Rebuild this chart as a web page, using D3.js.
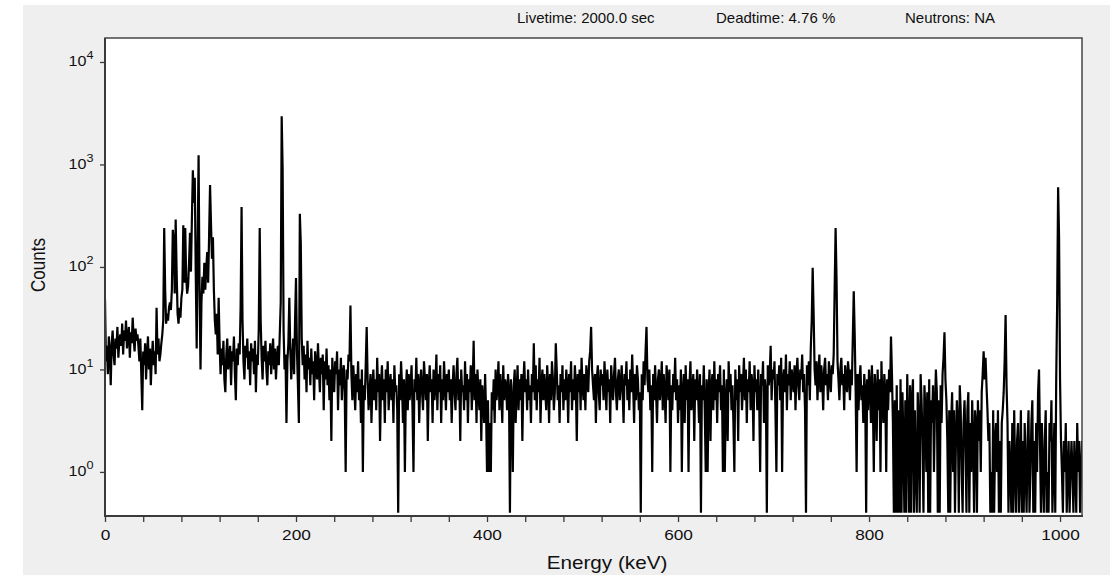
<!DOCTYPE html>
<html>
<head>
<meta charset="utf-8">
<script src="https://cdn.jsdelivr.net/npm/d3@7"></script>
<style>
  html, body { margin: 0; padding: 0; background: #fff; }
  svg { display: block; font-family: "Liberation Sans", Arial, sans-serif; }
</style>
</head>
<body>
<svg id="chart" width="1114" height="575"></svg>
<script>
// gamma spectrum, one value per 1 keV channel
// channels 0 - 260
var countsA = [
  48, 12, 17, 9, 21, 15, 7, 18, 24, 14, 11, 20, 16, 26, 13, 19,
  22, 17, 28, 14, 24, 19, 30, 16, 21, 26, 13, 23, 18, 32, 20, 15, 25, 19, 22,
  17, 12, 20, 9, 4, 15, 11, 18, 8, 14, 21, 10, 16, 7, 13, 19, 11, 15, 9, 40, 14, 20, 12,
  14, 18, 22, 30, 240, 60, 28, 35, 30, 40, 45, 38, 60, 230, 180, 55, 290, 90, 35, 28, 40, 32,
  50, 60, 255, 70, 240, 80, 55, 65, 110, 215, 90, 300, 880, 420, 740, 90, 16, 160, 1230, 60,
  10, 45, 80, 55, 110, 60, 95, 140, 70, 200, 630, 260, 120, 195, 60, 30, 22, 35, 14, 50, 18,
  9, 16, 11, 19, 8, 6, 14, 20, 10, 13, 17, 7, 15, 12, 21, 9, 5, 16, 11, 18,
  14, 40, 385, 30, 12, 8, 17, 13, 20, 10, 15, 7, 18, 12, 16, 9, 19, 6, 14, 11,
  25, 240, 30, 13, 8, 17, 12, 19, 10, 7, 15, 11, 18, 9, 14, 20, 10, 16, 8, 13, 17, 11, 22,
  45, 2950, 900, 24, 10, 14, 3, 12, 18, 50, 16, 8, 13, 20, 9, 30, 78, 15, 7, 3, 330, 170, 20,
  11, 17, 8, 14, 6, 19, 10, 13, 7, 16, 9, 12, 5, 15, 11, 8, 18, 10, 6, 13,
  9, 14, 4, 12, 8, 16, 7, 11, 5, 10, 2, 13, 8, 6, 12, 9, 15, 4, 10, 7,
  13, 5, 9, 11, 6, 1, 10, 8, 14, 12, 42, 9, 5, 11
];
// channels 261 - 600
var countsB = [
  7, 4, 9, 6, 12, 5, 8, 3, 10, 1, 7, 5, 11, 26, 8, 4, 6, 9, 3, 7,
  10, 5, 8, 4, 13, 6, 9, 2, 7, 11, 5, 8, 3, 10, 6, 12, 4, 7, 9, 5,
  8, 3, 11, 6, 7, 4, 0, 9, 5, 12, 7, 3, 8, 1, 6, 10, 4, 9, 5, 7,
  11, 4, 1, 8, 6, 13, 5, 9, 3, 7, 10, 6, 4, 12, 8, 5, 9, 2, 7, 11,
  6, 8, 3, 10, 5, 7, 14, 4, 9, 6, 11, 3, 8, 5, 12, 7, 4, 9, 6, 10,
  5, 8, 3, 7, 11, 6, 4, 9, 13, 5, 8, 2, 10, 6, 7, 4, 12, 5, 9, 3,
  8, 6, 11, 4, 7, 19, 5, 9, 3, 10, 6, 4, 8, 2, 7, 5, 3, 9, 4, 1,
  5, 1, 3, 1, 6, 4, 8, 3, 10, 5, 7, 12, 4, 9, 6, 3, 11, 5, 8, 7,
  4, 9, 6, 0, 8, 5, 1, 7, 10, 3, 6, 11, 4, 8, 5, 9, 2, 7, 12, 6,
  8, 4, 10, 5, 7, 3, 9, 6, 18, 5, 11, 4, 8, 6, 13, 3, 7, 10, 5, 9,
  6, 4, 11, 7, 3, 9, 5, 12, 8, 4, 6, 18, 10, 5, 7, 3, 9, 6, 11, 4,
  8, 5, 10, 7, 3, 9, 6, 12, 4, 8, 5, 11, 7, 2, 9, 6, 10, 4, 13, 7,
  5, 9, 4, 11, 8, 6, 12, 15, 26, 10, 7, 5, 9, 3, 8, 11, 6, 4, 10, 7,
  9, 5, 12, 7, 4, 10, 6, 8, 3, 11, 7, 5, 9, 13, 6, 4, 8, 10, 5, 7,
  11, 6, 3, 9, 7, 12, 5, 8, 4, 10, 6, 14, 7, 3, 9, 5, 11, 8, 4, 6,
  0, 9, 5, 12, 7, 15, 26, 8, 6, 10, 4, 7, 1, 9, 5, 11, 6, 3, 8, 10,
  5, 7, 12, 4, 9, 6, 3, 11, 8, 5, 10, 1, 7, 4, 9, 6, 13, 5, 8, 3
];
// channels 601 - 800
var countsC = [
  7, 4, 10, 1, 6, 9, 3, 11, 5, 8, 1, 7, 12, 4, 6, 9, 2, 8, 5, 10,
  6, 3, 9, 0, 7, 5, 11, 4, 1, 8, 1, 6, 10, 2, 7, 9, 4, 12, 5, 8,
  3, 9, 6, 11, 4, 7, 1, 10, 1, 5, 8, 2, 12, 6, 9, 4, 7, 3, 1, 10,
  5, 8, 2, 11, 6, 9, 4, 7, 13, 5, 10, 3, 8, 6, 12, 4, 9, 7, 2, 11,
  6, 8, 4, 10, 5, 1, 9, 7, 12, 3, 8, 6, 0, 11, 7, 9, 17, 5, 10, 8,
  12, 4, 1, 9, 7, 11, 5, 13, 1, 8, 10, 6, 14, 4, 9, 7, 12, 5, 10, 8,
  6, 11, 4, 9, 13, 7, 5, 10, 8, 14, 6, 9, 4, 0, 11, 7, 12, 5, 16, 30,
  98, 35, 10, 7, 12, 5, 9, 14, 6, 11, 8, 4, 10, 13, 7, 9, 5, 12, 8, 6,
  11, 9, 14, 60, 240, 75, 12, 8, 5, 10, 13, 7, 9, 4, 11, 8, 6, 12, 9, 5,
  10, 7, 20, 58, 22, 6, 1, 9, 4, 8, 11, 5, 7, 3, 9, 6, 0, 8, 4, 10
];
// channels 801 - 1023
var countsD = [
  7, 3, 11, 5, 1, 9, 6, 2, 10, 4, 8, 1, 12, 5, 3, 9, 6, 1, 8, 4,
  10, 6, 21, 9, 3, 0, 5, 0, 7, 0, 4, 0, 8, 0, 6, 2, 0, 5, 0, 9,
  3, 0, 7, 0, 5, 8, 0, 4, 1, 0, 6, 3, 0, 9, 5, 2, 0, 7, 4, 1,
  6, 0, 8, 0, 5, 3, 7, 1, 4, 10, 6, 0, 5, 0, 7, 3, 9, 13, 23, 8,
  5, 2, 0, 4, 0, 3, 6, 1, 4, 0, 2, 5, 3, 0, 7, 4, 1, 0, 3, 5,
  2, 0, 4, 6, 0, 3, 1, 5, 2, 0, 4, 3, 0, 5, 2, 4, 1, 6, 9, 15,
  8, 13, 7, 4, 2, 3, 0, 1, 0, 4, 0, 2, 3, 1, 4, 0, 2, 0, 3, 4,
  6, 12, 34, 7, 3, 0, 2, 1, 0, 3, 0, 4, 1, 0, 2, 3, 0, 1, 4, 0,
  2, 0, 3, 1, 0, 2, 4, 0, 1, 3, 5, 0, 2, 0, 3, 1, 6, 10, 2, 0,
  3, 1, 0, 2, 4, 0, 1, 0, 3, 2, 5, 0, 1, 3, 0, 8, 45,
  600, 190, 8,
  2, 1, 0, 2, 1, 3, 0, 1, 2, 0, 1, 2, 1, 0, 2, 1, 0, 3, 1, 2, 0, 1, 2
];

var keVPerChannel = 1;
var xMajorTicks = [0, 200, 400, 600, 800, 1000];
var xMinorStep = 40;
var yTickExponents = [0, 1, 2, 3, 4];
var headerLabels = ['Livetime: 2000.0 sec', 'Deadtime: 4.76 %', 'Neutrons: NA'];

var counts = countsA.concat(countsB, countsC, countsD);

var plot = {left: 105, top: 38, right: 1082, bottom: 516};
var stretch = 'scale(1.15,1)';   // the text in the picture is a bit wide
var frameColor = '#3a3a3a';
var textColor = '#111';

var svg = d3.select('#chart');

// grey panel and white plot area
svg.append('rect')
    .attr('x', 23).attr('y', 5)
    .attr('width', 1087).attr('height', 570)
    .attr('fill', '#efefef');

svg.append('rect')
    .attr('x', plot.left).attr('y', plot.top)
    .attr('width', plot.right - plot.left).attr('height', plot.bottom - plot.top)
    .attr('fill', '#fff');

var x = d3.scaleLinear()
    .domain([0, (counts.length - 1) * keVPerChannel])
    .range([plot.left, plot.right]);

var y = d3.scaleLog()
    .domain([Math.pow(10, -0.43), Math.pow(10, 4.234)])
    .range([plot.bottom, plot.top]);

// empty channels are drawn down at the floor of the plot
var floorValue = 0.4;

svg.append('clipPath').attr('id', 'plotClip')
  .append('rect')
    .attr('x', plot.left).attr('y', plot.top)
    .attr('width', plot.right - plot.left).attr('height', plot.bottom - plot.top);

var line = d3.line()
    .x(function(d, i) { return x(i * keVPerChannel); })
    .y(function(d) { return y(Math.max(d, floorValue)); });

svg.append('path')
    .datum(counts)
    .attr('clip-path', 'url(#plotClip)')
    .attr('d', line)
    .attr('fill', 'none')
    .attr('stroke', '#000')
    .attr('stroke-width', 2.2)
    .attr('stroke-linejoin', 'bevel');

// x axis
var xAxis = d3.axisBottom(x)
    .tickValues(d3.range(0, 1024, xMinorStep))
    .tickSizeInner(6)
    .tickSizeOuter(0)
    .tickFormat(function(d) { return xMajorTicks.indexOf(d) >= 0 ? d : ''; });

var gx = svg.append('g')
    .attr('transform', 'translate(0,' + plot.bottom + ')')
    .call(xAxis);
gx.select('.domain').remove();
gx.selectAll('line').attr('stroke', frameColor).attr('stroke-width', 1.3);
gx.selectAll('text')
    .attr('y', 24).attr('dy', null)
    .attr('font-size', 15)
    .attr('fill', textColor)
    .attr('font-family', '"Liberation Sans", Arial, sans-serif')
    .attr('transform', stretch);

// y axis
var yAxis = d3.axisLeft(y)
    .tickValues(yTickExponents.map(function(e) { return Math.pow(10, e); }))
    .tickSizeInner(5)
    .tickSizeOuter(0)
    .tickFormat('');

var gy = svg.append('g')
    .attr('transform', 'translate(' + plot.left + ',0)')
    .call(yAxis);
gy.select('.domain').remove();
gy.selectAll('line').attr('stroke', frameColor).attr('stroke-width', 1.3);

gy.selectAll('.tick').each(function(d) {
    var label = d3.select(this).append('text')
        .attr('text-anchor', 'end')
        .attr('x', -10)
        .attr('y', 4)
        .attr('font-size', 14)
        .attr('fill', textColor)
        .attr('transform', stretch);
    label.append('tspan').text('10');
    label.append('tspan')
        .attr('font-size', 11)
        .attr('dy', -7)
        .text(Math.round(Math.log10(d)));
});

// frame
svg.append('rect')
    .attr('x', plot.left).attr('y', plot.top)
    .attr('width', plot.right - plot.left).attr('height', plot.bottom - plot.top)
    .attr('fill', 'none')
    .attr('stroke', frameColor)
    .attr('stroke-width', 1.4);
svg.append('line')
    .attr('x1', plot.left).attr('x2', plot.left)
    .attr('y1', plot.top).attr('y2', plot.bottom + 1)
    .attr('stroke', frameColor).attr('stroke-width', 2);
svg.append('line')
    .attr('x1', plot.left - 1).attr('x2', plot.right + 1)
    .attr('y1', plot.bottom).attr('y2', plot.bottom)
    .attr('stroke', frameColor).attr('stroke-width', 2);

// axis titles
svg.append('text')
    .attr('transform', 'translate(607,569) ' + stretch)
    .attr('text-anchor', 'middle')
    .attr('font-size', 18)
    .attr('fill', textColor)
    .text('Energy (keV)');

svg.append('text')
    .attr('transform', 'translate(45,265) ' + stretch + ' rotate(-90)')
    .attr('text-anchor', 'middle')
    .attr('font-size', 17)
    .attr('fill', textColor)
    .text('Counts');

// header line
var headerX = [517, 716, 905];
svg.selectAll('.header')
    .data(headerLabels)
    .enter().append('text')
    .attr('class', 'header')
    .attr('transform', function(d, i) { return 'translate(' + headerX[i] + ',23)'; })
    .attr('font-size', 15)
    .attr('fill', textColor)
    .text(function(d) { return d; });
</script>
</body>
</html>
